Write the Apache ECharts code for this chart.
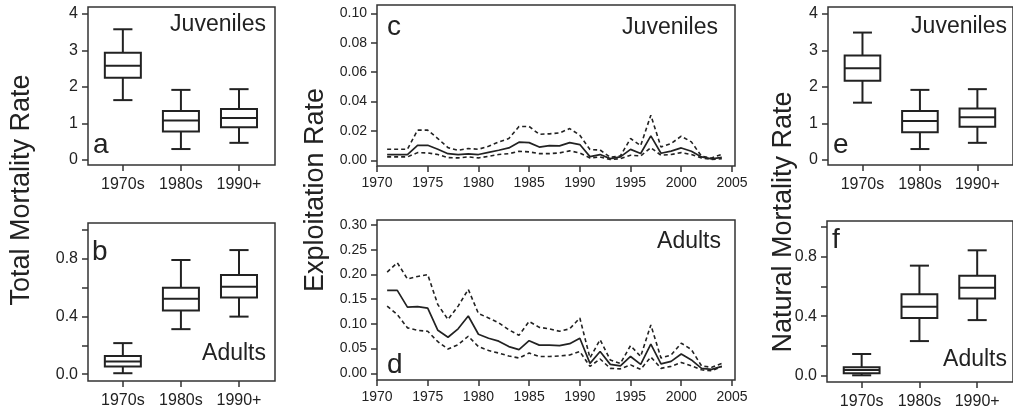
<!DOCTYPE html>
<html><head><meta charset="utf-8">
<script src="https://cdn.jsdelivr.net/npm/echarts@6/dist/echarts.min.js"></script>
<style>html,body{margin:0;padding:0;background:#fff}#c{width:1013px;height:411px}</style>
</head><body><div id="c"></div>
<script>
const boxCategories = ['1970s', '1980s', '1990+'];
// [min, q1, median, q3, max]
const totalJuv = [[1.64,2.25,2.58,2.94,3.58],[0.30,0.78,1.08,1.34,1.92],[0.47,0.90,1.15,1.40,1.94]];
const totalAdu = [[0.007,0.053,0.088,0.127,0.216],[0.313,0.442,0.524,0.600,0.793],[0.400,0.533,0.607,0.689,0.862]];
const natJuv = [[1.57,2.17,2.51,2.86,3.49],[0.30,0.76,1.07,1.34,1.92],[0.47,0.91,1.17,1.41,1.94]];
const natAdu = [[0.003,0.016,0.038,0.057,0.146],[0.233,0.388,0.464,0.547,0.740],[0.374,0.520,0.592,0.672,0.843]];

const years = [1971,1972,1973,1974,1975,1976,1977,1978,1979,1980,1981,1982,1983,1984,1985,1986,1987,1988,1989,1990,1991,1992,1993,1994,1995,1996,1997,1998,1999,2000,2001,2002,2003,2004];
const juvMid = [0.0039,0.0039,0.0039,0.0102,0.0102,0.0075,0.0045,0.0039,0.0043,0.0039, 0.0054,0.0068,0.0084,0.0123,0.0120,0.0090,0.0100,0.0098,0.0120,0.0107, 0.0025,0.0039,0.0011,0.0023,0.0074,0.0046,0.0166,0.0048,0.0062,0.0084, 0.0061,0.0023,0.0010,0.0020];
const juvUp = [0.0075,0.0075,0.0075,0.0205,0.0205,0.0148,0.0086,0.0068,0.0080,0.0075, 0.0095,0.0125,0.0148,0.0230,0.0230,0.0177,0.0180,0.0186,0.0216,0.0170, 0.0073,0.0070,0.0020,0.0030,0.0148,0.0100,0.0307,0.0090,0.0114,0.0164, 0.0125,0.0027,0.0016,0.0040];
const juvLo = [0.0023,0.0023,0.0023,0.0052,0.0050,0.0039,0.0018,0.0016,0.0023,0.0016, 0.0027,0.0039,0.0045,0.0061,0.0057,0.0045,0.0045,0.0050,0.0064,0.0050, 0.0016,0.0023,0.0005,0.0011,0.0034,0.0030,0.0086,0.0034,0.0039,0.0052, 0.0039,0.0016,0.0005,0.0011];
const aduMid = [0.168,0.168,0.134,0.135,0.132,0.087,0.073,0.090,0.116,0.079, 0.071,0.065,0.054,0.048,0.066,0.057,0.057,0.056,0.060,0.071, 0.020,0.044,0.018,0.015,0.034,0.018,0.059,0.019,0.024,0.039, 0.027,0.010,0.008,0.014];
const aduUp = [0.205,0.224,0.191,0.196,0.200,0.139,0.109,0.136,0.170,0.121, 0.112,0.102,0.088,0.077,0.105,0.093,0.090,0.085,0.090,0.112, 0.031,0.068,0.027,0.020,0.056,0.034,0.098,0.031,0.037,0.061, 0.048,0.015,0.012,0.020];
const aduLo = [0.136,0.119,0.092,0.087,0.085,0.064,0.049,0.058,0.075,0.054, 0.046,0.041,0.035,0.031,0.041,0.034,0.034,0.035,0.037,0.044, 0.014,0.029,0.010,0.009,0.017,0.008,0.033,0.010,0.014,0.022, 0.015,0.007,0.005,0.014];

const yearTicks = [1970,1975,1980,1985,1990,1995,2000,2005];
const juvBoxTicks = [0,1,2,3,4];
const aduBoxTicks = [0,0.2,0.4,0.6,0.8,1.0];
const aduBoxLabels = [0,0.4,0.8];
const juvRateTicks = [0,0.02,0.04,0.06,0.08,0.10];
const aduRateTicks = [0,0.05,0.10,0.15,0.20,0.25,0.30];

const FONT = '"Liberation Sans", Arial, Helvetica, sans-serif';
const INK = '#222';

const grids = [
  {left:88, width:187, top:7, height:158},     // a
  {left:88, width:187, top:223, height:158},   // b
  {left:377, width:358, top:5, height:161},    // c
  {left:377, width:358, top:220, height:160},  // d
  {left:828, width:192, top:7, height:158},    // e
  {left:827, width:192, top:221, height:161}   // f
].map(g => Object.assign({show:true, borderColor:'#333', borderWidth:1.5, backgroundColor:'transparent'}, g));

const tickStyle = {color:'#333', width:1.5};
function boxX(i){
  return {gridIndex:i, type:'value', min:-0.6, max:2.62, position:'bottom',
    axisLine:{show:false, onZero:false}, splitLine:{show:false},
    axisTick:{show:true, length:6, lineStyle:tickStyle, customValues:[0,1,2]},
    axisLabel:{customValues:[0,1,2], formatter:v=>boxCategories[Math.round(v)], fontSize:16, color:INK, fontFamily:FONT, margin:12}};
}
function yearX(i){
  return {gridIndex:i, type:'value', min:1970, max:2005.3, position:'bottom',
    axisLine:{show:false, onZero:false}, splitLine:{show:false},
    axisTick:{show:true, length:6, lineStyle:tickStyle, customValues:yearTicks},
    axisLabel:{customValues:yearTicks, formatter:v=>String(v), fontSize:14, color:INK, fontFamily:FONT, margin:10}};
}
function yAx(i, min, max, ticks, labels, dec, fs){
  return {gridIndex:i, type:'value', min:min, max:max, position:'left',
    axisLine:{show:false, onZero:false}, splitLine:{show:false},
    axisTick:{show:true, length:6, lineStyle:tickStyle, customValues:ticks},
    axisLabel:{customValues:labels, formatter:v=>v.toFixed(dec), fontSize:fs, color:INK, fontFamily:FONT, margin:10}};
}

function boxSeries(i, arr){
  return {type:'custom', xAxisIndex:i, yAxisIndex:i,
    encode:{x:0, y:[1,2,3,4,5]},
    data: arr.map((b, k) => [k].concat(b)),
    renderItem: function(params, api){
      const x = api.value(0);
      const unit = api.size([1,0])[0];
      const hw = unit*0.31, cw = unit*0.165;
      const pMin = api.coord([x, api.value(1)]);
      const pQ1 = api.coord([x, api.value(2)]);
      const pMed = api.coord([x, api.value(3)]);
      const pQ3 = api.coord([x, api.value(4)]);
      const pMax = api.coord([x, api.value(5)]);
      const cx = pMin[0];
      const st = {stroke:INK, lineWidth:2, fill:null};
      return {type:'group', children:[
        {type:'line', shape:{x1:cx, y1:pMax[1], x2:cx, y2:pQ3[1]}, style:st},
        {type:'line', shape:{x1:cx, y1:pQ1[1], x2:cx, y2:pMin[1]}, style:st},
        {type:'line', shape:{x1:cx-cw, y1:pMax[1], x2:cx+cw, y2:pMax[1]}, style:st},
        {type:'line', shape:{x1:cx-cw, y1:pMin[1], x2:cx+cw, y2:pMin[1]}, style:st},
        {type:'rect', shape:{x:cx-hw, y:pQ3[1], width:2*hw, height:pQ1[1]-pQ3[1]}, style:{stroke:INK, lineWidth:2, fill:'#fff'}},
        {type:'line', shape:{x1:cx-hw, y1:pMed[1], x2:cx+hw, y2:pMed[1]}, style:st}
      ]};
    }};
}
function lineSeries(i, vals, dashed){
  return {type:'line', xAxisIndex:i, yAxisIndex:i, symbol:'none', silent:true,
    data: years.map((y,k)=>[y, vals[k]]),
    lineStyle:{color:INK, width:dashed?1.6:1.7, type: dashed?[4,3]:'solid'}};
}

function txt(x, y, s, size, align){
  return {type:'text', x:x, y:y, style:{text:s, font:size+'px '+FONT, fill:INK, textAlign:align||'left', textVerticalAlign:'middle'}};
}
function vtxt(x, y, s, size){
  return {type:'text', x:x, y:y, rotation:Math.PI/2, style:{text:s, font:size+'px '+FONT, fill:INK, textAlign:'center', textVerticalAlign:'middle'}};
}

const option = {
  animation:false,
  backgroundColor:'#fff',
  grid: grids,
  xAxis:[boxX(0), boxX(1), yearX(2), yearX(3), boxX(4), boxX(5)],
  yAxis:[
    yAx(0, -0.137, 4.19, juvBoxTicks, juvBoxTicks, 0, 16),
    yAx(1, -0.047, 1.05, aduBoxTicks, aduBoxLabels, 1, 16),
    yAx(2, -0.0039, 0.1057, juvRateTicks, juvRateTicks, 2, 14),
    yAx(3, -0.0136, 0.3104, aduRateTicks, aduRateTicks, 2, 14),
    yAx(4, -0.137, 4.19, juvBoxTicks, juvBoxTicks, 0, 16),
    yAx(5, -0.042, 1.04, aduBoxTicks, aduBoxLabels, 1, 16)
  ],
  series:[
    boxSeries(0, totalJuv), boxSeries(1, totalAdu),
    lineSeries(2, juvUp, true), lineSeries(2, juvLo, true), lineSeries(2, juvMid, false),
    lineSeries(3, aduUp, true), lineSeries(3, aduLo, true), lineSeries(3, aduMid, false),
    boxSeries(4, natJuv), boxSeries(5, natAdu)
  ],
  graphic:[
    txt(266, 25, 'Juveniles', 23, 'right'),
    txt(93, 145, 'a', 28),
    txt(266, 354, 'Adults', 23, 'right'),
    txt(92, 252, 'b', 28),
    txt(718, 28, 'Juveniles', 23, 'right'),
    txt(387, 27, 'c', 28),
    txt(721, 242, 'Adults', 23, 'right'),
    txt(387, 365, 'd', 28),
    txt(1007, 27, 'Juveniles', 23, 'right'),
    txt(833, 145, 'e', 28),
    txt(1007, 360, 'Adults', 23, 'right'),
    txt(832, 240, 'f', 28),
    vtxt(22, 190, 'Total Mortality Rate', 27),
    vtxt(316, 190, 'Exploitation Rate', 27),
    vtxt(784, 222, 'Natural Mortality Rate', 27)
  ]
};
echarts.init(document.getElementById('c'), null, {renderer:'canvas'}).setOption(option);
</script></body></html>
